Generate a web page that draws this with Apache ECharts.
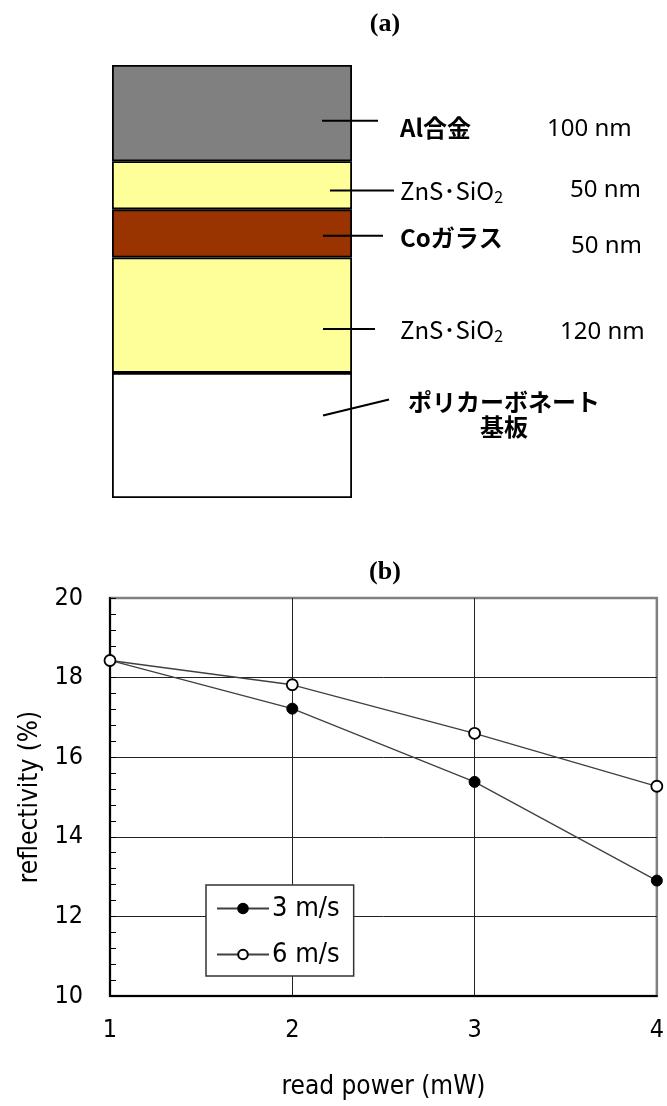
<!DOCTYPE html>
<html>
<head>
<meta charset="utf-8">
<script src="https://cdn.jsdelivr.net/npm/echarts@6/dist/echarts.min.js"></script>
<style>
  html, body { margin: 0; padding: 0; background: #fff; }
  #main { width: 667px; height: 1106px; }
</style>
</head>
<body>
<div id="main"></div>
<script>
// ---- (a) film stack, top to bottom ----
const layerNames = ['Al合金', 'ZnS･SiO2', 'Coガラス', 'ZnS･SiO2', 'ポリカーボネート基板'];
const filmThicknessNm = [100, 50, 50, 120];
const substrateDepth = 130;              // substrate drawn as a block, not to scale
const thicknessLabels = ['100 nm', '50 nm', '50 nm', '120 nm', ''];

// ---- (b) reflectivity vs. read power ----
const readPower = [1, 2, 3, 4];
const seriesNames = ['3 m/s', '6 m/s'];
const reflectivity3 = [18.43, 17.22, 15.38, 12.90];
const reflectivity6 = [18.43, 17.82, 16.60, 15.27];

// ---- styling ----
const layerColors = ['#808080', '#FFFF99', '#993300', '#FFFF99', '#FFFFFF'];
const GA = { left: 112, top: 65, width: 240, height: 433 };   // stack box
const GB = { left: 110, top: 598, width: 548, height: 398 };  // line chart
const axisFont = "'DejaVu Sans Condensed', 'DejaVu Sans', sans-serif";
const jpFont = "'Noto Sans CJK JP', sans-serif";

const layerDepths = filmThicknessNm.concat([substrateDepth]);
const totalDepth = layerDepths.reduce((a, b) => a + b, 0);

const chart = echarts.init(document.getElementById('main'), null, { renderer: 'canvas' });

const stackSeries = layerDepths.map((d, i) => ({
  type: 'bar',
  name: layerNames[i],
  xAxisIndex: 1, yAxisIndex: 1,
  stack: 'film',
  barWidth: '100%',
  silent: true,
  itemStyle: { color: layerColors[i], borderColor: '#000', borderWidth: 1.8 },
  data: [d]
}));

const pts = (ys) => readPower.map((x, i) => [x, ys[i]]);

chart.setOption({
  animation: false,
  backgroundColor: '#fff',
  grid: [
    { left: GB.left, top: GB.top, width: GB.width, height: GB.height,
      show: true, borderColor: '#808080', borderWidth: 2.5, backgroundColor: 'transparent' },
    { left: GA.left, top: GA.top, width: GA.width, height: GA.height, show: false }
  ],
  xAxis: [
    { type: 'value', gridIndex: 0, min: 1, max: 4, interval: 1,
      name: 'read power (mW)', nameLocation: 'middle', nameGap: 78,
      nameTextStyle: { fontFamily: axisFont, fontSize: 26, color: '#000' },
      axisLine: { show: true, lineStyle: { color: '#000', width: 2 } },
      axisTick: { show: false },
      axisLabel: { fontFamily: axisFont, fontSize: 25, color: '#000', margin: 22 },
      splitLine: { show: true, showMinLine: false, showMaxLine: false, lineStyle: { color: '#222', width: 1 } } },
    { type: 'category', gridIndex: 1, data: ['stack'], show: false }
  ],
  yAxis: [
    { type: 'value', gridIndex: 0, min: 10, max: 20, interval: 2,
      name: 'reflectivity (%)', nameLocation: 'middle', nameGap: 66,
      nameTextStyle: { fontFamily: axisFont, fontSize: 26, color: '#000' },
      axisLine: { show: true, lineStyle: { color: '#000', width: 2 } },
      axisTick: { show: true, inside: true, length: 6, lineStyle: { color: '#000', width: 1 } },
      minorTick: { show: true, splitNumber: 5, length: 6, lineStyle: { color: '#000', width: 1 } },
      axisLabel: { fontFamily: axisFont, fontSize: 25, color: '#000', margin: 27 },
      splitLine: { show: true, showMinLine: false, showMaxLine: false, lineStyle: { color: '#222', width: 1 } } },
    { type: 'value', gridIndex: 1, min: 0, max: totalDepth, inverse: true, show: false }
  ],
  legend: {
    left: 206, top: 885, orient: 'vertical',
    padding: [10, 14, 8, 10],
    itemWidth: 52, itemHeight: 12, itemGap: 19,
    borderColor: '#333', borderWidth: 1.5, backgroundColor: '#fff',
    textStyle: { fontFamily: axisFont, fontSize: 27, color: '#000', padding: [0, 0, 0, -2] },
    data: seriesNames
  },
  series: [
    { type: 'line', name: seriesNames[0], xAxisIndex: 0, yAxisIndex: 0, clip: false,
      symbol: 'circle', symbolSize: 11,
      lineStyle: { color: '#404040', width: 1.3 },
      itemStyle: { color: '#000', borderColor: '#000', borderWidth: 1 },
      data: pts(reflectivity3) },
    { type: 'line', name: seriesNames[1], xAxisIndex: 0, yAxisIndex: 0, clip: false,
      symbol: 'circle', symbolSize: 11,
      lineStyle: { color: '#404040', width: 1.3 },
      itemStyle: { color: '#fff', borderColor: '#000', borderWidth: 1.8 },
      data: pts(reflectivity6) }
  ].concat(stackSeries)
});

// ---- annotations: panel titles, leader lines and layer labels ----
const boxRight = GA.left + GA.width;
const leaderFrac = [0.58, 0.61, 0.55, 0.62, 0.34];     // where each leader sits inside its layer
const leaderStart = [-30, -22, -29, -29, -29];
const leaderEnd = [26, 42, 31, 23, 37];
const nameX = [400, 400, 400, 400, 408];
const nameDy = [7, 0, 2, 1, 0];
const thickX = [547, 570, 571, 560, 0];
const thickDy = [8, 0, 10, 3, 0];
const boldName = [true, false, true, false, true];

const graphics = [];
const TOP = 100;

graphics.push({ type: 'text', z: TOP, x: 385, y: 24, style: { text: '(a)', fontFamily: "'Liberation Serif', serif",
  fontWeight: 'bold', fontSize: 26, fill: '#000', align: 'center', verticalAlign: 'middle' } });
graphics.push({ type: 'text', z: TOP, x: 385, y: 572, style: { text: '(b)', fontFamily: "'Liberation Serif', serif",
  fontWeight: 'bold', fontSize: 26, fill: '#000', align: 'center', verticalAlign: 'middle' } });

let acc = 0;
layerDepths.forEach((d, i) => {
  const yTop = chart.convertToPixel({ yAxisIndex: 1 }, acc);
  const yBot = chart.convertToPixel({ yAxisIndex: 1 }, acc + d);
  acc += d;
  const y0 = yTop + (yBot - yTop) * leaderFrac[i];
  const y1 = i === 4 ? y0 - 16 : y0;
  graphics.push({ type: 'line', z: TOP, silent: true,
    shape: { x1: boxRight + leaderStart[i], y1: y0, x2: boxRight + leaderEnd[i], y2: y1 },
    style: { stroke: '#000', lineWidth: 2 } });

  const name = layerNames[i];
  let textStyle;
  if (name.indexOf('SiO2') >= 0) {
    textStyle = { text: '{n|ZnS･SiO}{s|2}', rich: {
      n: { fontFamily: jpFont, fontSize: 24, fill: '#000', lineHeight: 30 },
      s: { fontFamily: jpFont, fontSize: 16, fill: '#000', lineHeight: 30, padding: [12, 0, 0, 0] } } };
  } else if (i === 4) {
    textStyle = { text: 'ポリカーボネート\n基板', fontFamily: jpFont, fontSize: 24, fontWeight: 'bold',
      fill: '#000', lineHeight: 25 };
  } else {
    textStyle = { text: name, fontFamily: jpFont, fontSize: 24, fontWeight: boldName[i] ? 'bold' : 'normal', fill: '#000' };
  }
  textStyle.verticalAlign = 'middle';
  if (i === 4) {
    graphics.push({ type: 'text', z: TOP, x: nameX[i] + 96, y: y1 + 15,
      style: Object.assign(textStyle, { align: 'center' }) });
  } else {
    textStyle.align = 'left';
    graphics.push({ type: 'text', z: TOP, x: nameX[i], y: y0 + nameDy[i], style: textStyle });
  }
  if (thicknessLabels[i]) {
    graphics.push({ type: 'text', z: TOP, x: thickX[i], y: y0 + thickDy[i], style: {
      text: thicknessLabels[i], fontFamily: "'Noto Sans', sans-serif", fontSize: 24, fill: '#000',
      align: 'left', verticalAlign: 'middle' } });
  }
});

chart.setOption({ graphic: graphics });
</script>
</body>
</html>
